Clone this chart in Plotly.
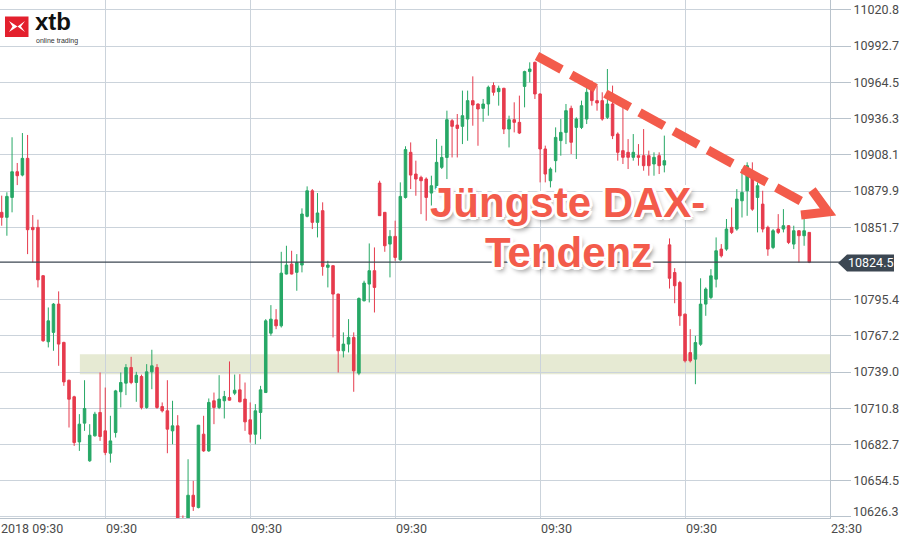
import plotly.graph_objects as go

# ---------------- data ----------------
opens = [
10863.3, 10859.4, 10874.9, 10894.9, 10892.3, 10905.3, 10851.6, 10851.6, 10814.0, 10762.6,
10769.9, 10791.9, 10762.1, 10732.7, 10719.8, 10684.7, 10699.3, 10670.0, 10689.4, 10707.6,
10693.3, 10675.9, 10692.0, 10723.7, 10730.4, 10742.6, 10730.9, 10735.6, 10711.5, 10739.2,
10742.6, 10712.2, 10708.9, 10693.3, 10697.2, 10624.0, 10618.0, 10643.2, 10633.6, 10690.7,
10677.7, 10716.7, 10711.5, 10716.7, 10719.2, 10722.6, 10725.2, 10718.0, 10701.9, 10690.7,
10707.6, 10723.1, 10769.3, 10779.7, 10775.0, 10815.3, 10823.0, 10816.6, 10822.3, 10860.2,
10880.1, 10855.5, 10864.6, 10820.5, 10821.8, 10799.7, 10755.6, 10760.8, 10766.0, 10738.2,
10794.5, 10807.5, 10817.9, 10886.1, 10863.3, 10838.6, 10844.6, 10826.4, 10874.9, 10910.0,
10893.1, 10890.5, 10889.2, 10878.3, 10881.4, 10898.3, 10906.0, 10934.6, 10931.2, 10930.2,
10935.9, 10950.2, 10947.6, 10944.2, 10947.6, 10961.9, 10957.2, 10959.8, 10928.1, 10935.4,
10933.3, 10961.3, 10972.8, 10980.0, 10955.4, 10912.6, 10887.9, 10903.5, 10919.1, 10925.5,
10944.2, 10929.4, 10929.4, 10935.9, 10964.5, 10950.2, 10950.2, 10937.2, 10947.6, 10924.2,
10911.3, 10910.0, 10906.1, 10907.4, 10907.4, 10907.4, 10900.9, 10907.4, 10900.1, 10838.0,
10816.5, 10808.7, 10784.1, 10754.2, 10749.1, 10760.7, 10791.9, 10797.1, 10811.3, 10834.7,
10834.7, 10851.6, 10850.3, 10872.3, 10880.1, 10890.5, 10874.9, 10869.7, 10851.6, 10836.0,
10850.3, 10850.3, 10852.9, 10838.6, 10849.0, 10845.1, 10847.7]

highs = [
10876.3, 10878.9, 10921.7, 10901.7, 10925.0, 10923.5, 10861.2, 10857.6, 10814.5, 10789.3,
10792.7, 10801.8, 10762.6, 10733.0, 10720.6, 10706.3, 10732.7, 10698.5, 10708.1, 10738.7,
10727.0, 10705.0, 10725.2, 10738.7, 10745.2, 10750.9, 10739.2, 10737.0, 10745.2, 10756.4,
10745.2, 10715.4, 10732.7, 10716.7, 10705.5, 10627.5, 10671.2, 10654.4, 10697.9, 10705.0,
10718.5, 10723.1, 10736.6, 10724.4, 10747.3, 10737.1, 10737.4, 10730.9, 10715.4, 10714.1,
10728.3, 10780.2, 10791.1, 10788.0, 10832.6, 10837.3, 10833.4, 10830.8, 10866.4, 10883.5,
10881.4, 10878.3, 10871.1, 10825.6, 10822.0, 10800.0, 10769.9, 10780.2, 10769.9, 10797.1,
10810.1, 10839.1, 10836.0, 10887.9, 10863.5, 10849.5, 10856.8, 10886.6, 10914.7, 10917.7,
10903.5, 10891.8, 10890.5, 10891.8, 10920.3, 10915.1, 10942.4, 10935.9, 10939.8, 10958.0,
10958.0, 10969.1, 10948.0, 10951.5, 10961.9, 10964.4, 10961.9, 10960.2, 10938.5, 10948.9,
10954.1, 10973.5, 10980.0, 10980.6, 10955.8, 10915.2, 10898.3, 10929.4, 10935.9, 10947.6,
10946.3, 10937.2, 10950.2, 10964.5, 10965.8, 10961.9, 10956.7, 10974.8, 10961.9, 10925.5,
10951.5, 10920.3, 10924.2, 10916.4, 10928.1, 10911.3, 10910.0, 10910.0, 10923.0, 10843.0,
10819.9, 10810.0, 10784.5, 10772.4, 10767.2, 10812.0, 10804.9, 10819.1, 10843.8, 10838.6,
10858.1, 10867.1, 10881.4, 10897.0, 10902.2, 10902.2, 10886.6, 10880.1, 10852.9, 10850.3,
10861.9, 10865.8, 10853.4, 10852.9, 10849.3, 10858.1, 10847.9]

lows = [
10852.9, 10845.1, 10863.3, 10884.5, 10891.3, 10830.8, 10824.3, 10804.9, 10762.6, 10758.2,
10755.6, 10743.9, 10728.3, 10695.9, 10681.6, 10677.7, 10693.3, 10669.2, 10688.9, 10685.5,
10674.4, 10668.6, 10688.1, 10711.5, 10721.1, 10729.6, 10715.9, 10710.0, 10710.5, 10725.7,
10710.5, 10707.6, 10675.9, 10682.9, 10615.0, 10612.0, 10610.0, 10631.0, 10633.0, 10677.0,
10677.0, 10698.5, 10710.2, 10702.9, 10716.8, 10721.1, 10715.5, 10693.3, 10684.2, 10682.9,
10686.8, 10722.8, 10767.3, 10772.4, 10773.7, 10815.0, 10815.0, 10802.3, 10816.6, 10859.4,
10850.3, 10843.8, 10814.0, 10804.9, 10766.0, 10738.7, 10750.4, 10754.3, 10723.7, 10736.6,
10794.0, 10793.2, 10785.4, 10860.5, 10832.6, 10812.7, 10825.6, 10825.6, 10874.0, 10881.4,
10876.2, 10861.9, 10856.8, 10868.4, 10880.1, 10897.0, 10889.2, 10906.0, 10906.0, 10916.4,
10919.0, 10930.7, 10915.1, 10933.8, 10938.5, 10954.1, 10946.3, 10924.2, 10913.8, 10925.5,
10924.2, 10945.0, 10964.4, 10951.5, 10886.6, 10886.6, 10882.7, 10894.4, 10907.4, 10916.4,
10908.7, 10904.8, 10928.1, 10932.0, 10946.3, 10942.4, 10934.6, 10935.9, 10920.3, 10903.5,
10900.9, 10897.0, 10903.5, 10899.6, 10895.7, 10891.8, 10891.8, 10893.1, 10894.4, 10804.0,
10792.6, 10775.0, 10746.5, 10746.5, 10729.6, 10759.4, 10782.8, 10795.8, 10804.9, 10828.2,
10833.4, 10846.4, 10849.0, 10859.3, 10860.6, 10864.5, 10847.7, 10847.7, 10829.5, 10834.7,
10846.4, 10847.7, 10838.6, 10834.7, 10824.3, 10837.3, 10823.8]

closes = [
10859.4, 10875.7, 10894.9, 10891.8, 10905.3, 10849.8, 10849.8, 10810.8, 10763.4, 10778.9,
10791.9, 10760.8, 10731.4, 10717.9, 10684.2, 10698.5, 10710.7, 10689.9, 10706.3, 10688.9,
10676.4, 10685.5, 10724.4, 10730.9, 10742.6, 10730.9, 10736.6, 10711.5, 10739.2, 10743.9,
10711.5, 10708.9, 10694.6, 10697.2, 10620.0, 10620.0, 10643.2, 10634.4, 10697.7, 10677.7,
10715.4, 10711.5, 10718.0, 10720.0, 10717.2, 10724.9, 10715.9, 10700.3, 10690.7, 10708.9,
10725.2, 10778.9, 10780.2, 10775.0, 10816.0, 10822.3, 10815.3, 10824.3, 10862.0, 10880.1,
10855.5, 10862.8, 10821.2, 10822.3, 10799.7, 10755.6, 10760.8, 10766.0, 10740.0, 10796.3,
10808.3, 10817.9, 10804.9, 10860.7, 10837.3, 10844.6, 10828.2, 10875.7, 10912.1, 10892.3,
10889.2, 10887.9, 10874.9, 10884.0, 10902.2, 10906.0, 10935.4, 10930.2, 10928.6, 10938.5,
10950.2, 10946.8, 10943.7, 10947.6, 10960.6, 10956.7, 10959.8, 10928.1, 10935.4, 10933.3,
10925.0, 10972.8, 10974.8, 10955.4, 10912.6, 10893.1, 10897.0, 10921.6, 10925.5, 10942.4,
10917.8, 10935.9, 10946.3, 10956.7, 10950.2, 10948.4, 10935.9, 10947.6, 10922.9, 10910.0,
10906.1, 10906.1, 10910.0, 10906.1, 10899.6, 10899.6, 10906.1, 10899.6, 10903.5, 10812.0,
10806.2, 10782.8, 10747.8, 10747.8, 10762.0, 10791.9, 10803.6, 10813.9, 10833.4, 10829.5,
10850.3, 10847.7, 10873.6, 10878.8, 10899.6, 10865.8, 10884.0, 10850.3, 10834.7, 10849.0,
10847.7, 10852.9, 10839.9, 10849.0, 10845.1, 10849.0, 10824.5]

candle_idx = list(range(len(closes)))

y_ticks = [11020.8, 10992.7, 10964.5, 10936.3, 10908.1, 10879.9, 10851.7,
           10795.4, 10767.2, 10739.0, 10710.8, 10682.7, 10654.5, 10626.3]
y_tick_text = ["11020.8", "10992.7", "10964.5", "10936.3", "10908.1", "10879.9", "10851.7",
               "10795.4", "10767.2", "10739.0", "10710.8", "10682.7", "10654.5", ""]
last_tick_label = "10626.3"

x_grid_idx = [20, 48, 76, 104, 132, 160]
x_grid_text = ["09:30", "09:30", "09:30", "09:30", "09:30", "23:30"]
first_x_label = "2018 09:30"

current_price = 10824.5
support_zone = [10737.3, 10752.9]
support_start_idx = 15.1

title_line1 = "Jüngste DAX-"
title_line2 = "Tendenz"

# ---------------- helpers (pixel -> paper) ----------------
PW, PH = 830.0, 518.0
def px(x):
    return x / PW
def py(y):
    return 1 - y / PH

UP = "#27a866"
DOWN = "#e63b4d"
ACCENT = "#f35b4b"
GRID = "#cbd3db"
TXT = "#4a4a4a"
DARK = "#3c4752"

fig = go.Figure()
fig.add_trace(go.Candlestick(
    x=candle_idx, open=opens, high=highs, low=lows, close=closes,
    increasing=dict(line=dict(color=UP, width=1), fillcolor=UP),
    decreasing=dict(line=dict(color=DOWN, width=1), fillcolor=DOWN),
    whiskerwidth=0, showlegend=False, hoverinfo="skip"))

shapes = []
# support zone
shapes.append(dict(type="rect", xref="x", yref="y", x0=support_start_idx, x1=160,
                   y0=support_zone[0], y1=support_zone[1],
                   fillcolor="rgba(196,206,150,0.42)", line=dict(width=0), layer="below"))
# current price line
shapes.append(dict(type="line", xref="paper", yref="y", x0=0, x1=px(842),
                   y0=current_price, y1=current_price, line=dict(color=DARK, width=1.2)))
# current price tag
shapes.append(dict(type="path", xref="paper", yref="paper",
                   path=f"M {px(838)},{py(263)} L {px(847)},{py(254.5)} L {px(894)},{py(254.5)} "
                        f"L {px(894)},{py(271.5)} L {px(847)},{py(271.5)} Z",
                   fillcolor=DARK, line=dict(width=0)))
# dashed trend arrow
shapes.append(dict(type="line", xref="paper", yref="paper",
                   x0=px(537), y0=py(56), x1=px(808), y1=py(205),
                   line=dict(color=ACCENT, width=9, dash="28px,11px")))
shapes.append(dict(type="path", xref="paper", yref="paper",
                   path=f"M {px(812)},{py(190)} L {px(828)},{py(212)} L {px(801)},{py(215)}",
                   line=dict(color=ACCENT, width=9)))
# logo
shapes.append(dict(type="rect", xref="paper", yref="paper",
                   x0=px(5), x1=px(28.5), y0=py(37), y1=py(16.5),
                   fillcolor="#e3202d", line=dict(width=0)))
shapes.append(dict(type="path", xref="paper", yref="paper",
                   path=f"M {px(9)},{py(21)} L {px(17.5)},{py(26.5)} L {px(9)},{py(32)} L {px(12.5)},{py(26.5)} Z "
                        f"M {px(25)},{py(21)} L {px(17.5)},{py(26.5)} L {px(25)},{py(32)} L {px(21)},{py(26.5)} Z",
                   fillcolor="white", line=dict(width=0)))

annotations = []
for xi, t in zip(x_grid_idx, x_grid_text):
    annotations.append(dict(x=xi, y=0, xref="x", yref="paper", text=t, showarrow=False,
                            xanchor="left", yanchor="top", xshift=-1, yshift=-1,
                            font=dict(family="Roboto", size=12.5, color=TXT)))
annotations.append(dict(x=0, y=0, xref="paper", yref="paper", text=first_x_label, showarrow=False,
                        xanchor="left", yanchor="top", xshift=-1, yshift=-1,
                        font=dict(family="Roboto", size=12.5, color=TXT)))
annotations.append(dict(x=px(851), y=py(511.5), xref="paper", yref="paper", text=last_tick_label,
                        showarrow=False, xanchor="left", yanchor="middle",
                        font=dict(family="Roboto", size=12.5, color=TXT)))
annotations.append(dict(x=px(870.5), y=current_price, xref="paper", yref="y", text=f"{current_price:.1f}",
                        showarrow=False, xanchor="center", yanchor="middle",
                        font=dict(family="Roboto", size=12.5, color="white")))
shadow = ("3px 0 0 #fff, -3px 0 0 #fff, 0 3px 0 #fff, 0 -3px 0 #fff, "
          "2px 2px 0 #fff, -2px -2px 0 #fff, 2px -2px 0 #fff, -2px 2px 0 #fff, "
          "3px 4px 5px rgba(0,0,0,0.45)")
annotations.append(dict(x=px(567), y=py(202), xref="paper", yref="paper", text=f"<b>{title_line1}</b>",
                        showarrow=False, xanchor="center", yanchor="middle",
                        font=dict(family="Liberation Sans", size=42, color=ACCENT, shadow=shadow)))
annotations.append(dict(x=px(568), y=py(252), xref="paper", yref="paper", text=f"<b>{title_line2}</b>",
                        showarrow=False, xanchor="center", yanchor="middle",
                        font=dict(family="Liberation Sans", size=42, color=ACCENT, shadow=shadow)))
annotations.append(dict(x=px(33), y=py(31.5), xref="paper", yref="paper", text="<b>xtb</b>",
                        showarrow=False, xanchor="left", yanchor="bottom", yshift=-5,
                        font=dict(family="Liberation Sans", size=24, color="#111111")))
annotations.append(dict(x=px(34), y=py(34.5), xref="paper", yref="paper", text="online trading",
                        showarrow=False, xanchor="left", yanchor="top",
                        font=dict(family="Liberation Sans", size=7, color="#333333")))

fig.update_layout(
    width=905, height=536, autosize=False,
    margin=dict(l=0, r=75, t=0, b=18, pad=0),
    paper_bgcolor="white", plot_bgcolor="white",
    shapes=shapes, annotations=annotations,
    xaxis=dict(range=[-0.33, 160.0], tickvals=x_grid_idx, showticklabels=False,
               showgrid=True, gridcolor=GRID, gridwidth=1, zeroline=False,
               showline=True, linecolor="#b9c3cc", linewidth=1,
               rangeslider=dict(visible=False), fixedrange=True),
    yaxis=dict(range=[10625.5, 11028.5], side="right", tickvals=y_ticks, ticktext=y_tick_text,
               showgrid=True, gridcolor=GRID, gridwidth=1, zeroline=False,
               ticks="outside", ticklen=20, tickcolor="#b9c3cc",
               showline=True, linecolor="#b9c3cc", linewidth=1, fixedrange=True,
               tickfont=dict(family="Roboto", size=12.5, color=TXT)),
)

fig.write_html("out.html", config={"displayModeBar": False, "staticPlot": True},
               post_script="document.body.style.margin='0px';document.body.style.overflow='hidden';")
